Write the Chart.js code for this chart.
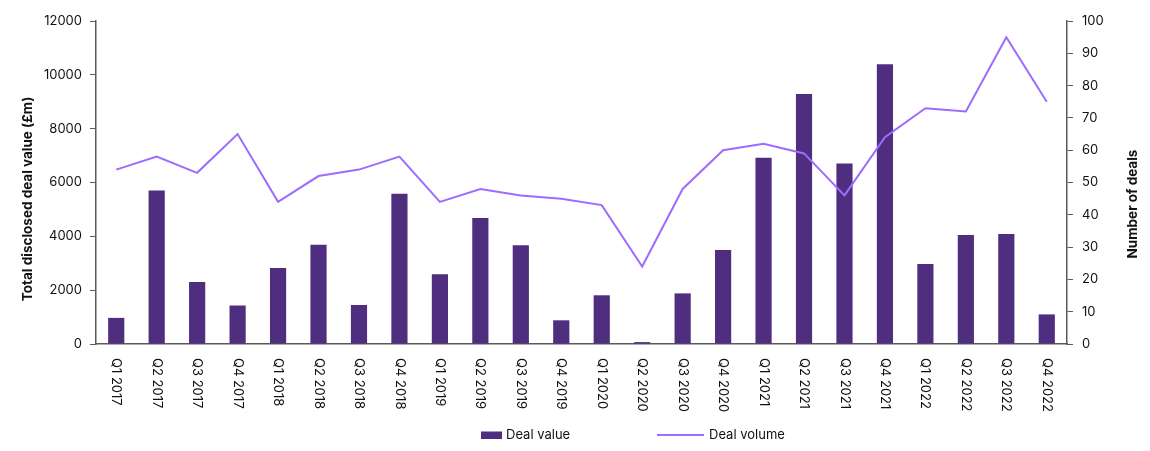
<!DOCTYPE html>
<html>
<head>
<meta charset="utf-8">
<script src="https://cdn.jsdelivr.net/npm/chart.js@4.4.0/dist/chart.umd.min.js"></script>
<style>
  html, body { margin: 0; padding: 0; background: #ffffff; }
  #wrap { width: 1150px; height: 451px; position: relative; }
</style>
</head>
<body>
<div id="wrap"><canvas id="c" width="1150" height="451"></canvas></div>
<script>
const categories = ["Q1 2017","Q2 2017","Q3 2017","Q4 2017","Q1 2018","Q2 2018","Q3 2018","Q4 2018",
  "Q1 2019","Q2 2019","Q3 2019","Q4 2019","Q1 2020","Q2 2020","Q3 2020","Q4 2020",
  "Q1 2021","Q2 2021","Q3 2021","Q4 2021","Q1 2022","Q2 2022","Q3 2022","Q4 2022"];
const dealValue = [970, 5700, 2300, 1430, 2820, 3690, 1450, 5580,
  2590, 4680, 3670, 880, 1810, 70, 1880, 3490,
  6920, 9290, 6710, 10390, 2970, 4050, 4090, 1100];
const dealVolume = [54, 58, 53, 65, 44, 52, 54, 58,
  44, 48, 46, 45, 43, 24, 48, 60,
  62, 59, 46, 64, 73, 72, 95, 75];
const leftTitle = "Total disclosed deal value (£m)";
const rightTitle = "Number of deals";
const seriesNames = ["Deal value", "Deal volume"];

const BAR = "#4f2d7f";
const LINE = "#9d6cff";
const AXIS = "#5a5a5a";
const FONT = "Inter, 'Noto Sans', sans-serif";

const customDraw = {
  id: "customDraw",
  afterDraw(chart) {
    const ctx = chart.ctx;
    const xs = chart.scales.x;
    ctx.save();
    ctx.fillStyle = "#111111";
    ctx.font = "13px " + FONT;
    ctx.textAlign = "left";
    ctx.textBaseline = "middle";
    categories.forEach((lab, i) => {
      const x = xs.getPixelForValue(i);
      ctx.save();
      ctx.translate(x, xs.top + 14);
      ctx.rotate(Math.PI / 2);
      ctx.fillText(lab, 0, 0);
      ctx.restore();
    });
    // axis titles
    ctx.font = "bold 13.5px " + FONT;
    ctx.textAlign = "center";
    ctx.save();
    ctx.translate(28, 199);
    ctx.rotate(-Math.PI / 2);
    ctx.fillText(leftTitle, 0, 0);
    ctx.restore();
    ctx.save();
    ctx.translate(1133, 204);
    ctx.rotate(-Math.PI / 2);
    ctx.fillText(rightTitle, 0, 0);
    ctx.restore();
    // legend
    ctx.font = "13px " + FONT;
    ctx.textAlign = "left";
    ctx.fillStyle = BAR;
    ctx.fillRect(481, 431.5, 21, 7.5);
    ctx.fillStyle = "#111111";
    ctx.fillText(seriesNames[0], 506, 435);
    ctx.strokeStyle = LINE;
    ctx.lineWidth = 2;
    ctx.beginPath();
    ctx.moveTo(657, 435);
    ctx.lineTo(704, 435);
    ctx.stroke();
    ctx.fillText(seriesNames[1], 709, 435);
    ctx.restore();
  }
};

new Chart(document.getElementById("c"), {
  data: {
    labels: categories,
    datasets: [
      {
        type: "line",
        label: seriesNames[1],
        data: dealVolume,
        yAxisID: "y1",
        borderColor: LINE,
        backgroundColor: LINE,
        borderWidth: 2,
        pointRadius: 0,
        tension: 0,
        order: 0
      },
      {
        type: "bar",
        label: seriesNames[0],
        data: dealValue,
        yAxisID: "y",
        backgroundColor: BAR,
        borderWidth: 0,
        barPercentage: 0.8,
        categoryPercentage: 0.5,
        order: 1
      }
    ]
  },
  options: {
    responsive: false,
    animation: false,
    devicePixelRatio: 1,
    layout: { padding: { top: 21, left: 0, right: 0, bottom: 0 } },
    plugins: { legend: { display: false }, tooltip: { enabled: false } },
    scales: {
      x: {
        type: "category",
        offset: true,
        grid: { display: false },
        border: { display: true, color: AXIS, width: 1.5 },
        ticks: { display: false },
        afterFit: (s) => { s.height = 107; }
      },
      y: {
        position: "left",
        min: 0, max: 12000,
        ticks: { stepSize: 2000, color: "#111111", font: { family: FONT, size: 13 }, padding: 8,
                 callback: (v) => String(v) },
        grid: { drawOnChartArea: false, drawTicks: true, tickLength: 6, color: AXIS },
        border: { display: true, color: AXIS, width: 1.5 },
        afterFit: (s) => { s.width = 96; }
      },
      y1: {
        position: "right",
        min: 0, max: 100,
        ticks: { stepSize: 10, color: "#111111", font: { family: FONT, size: 13 }, padding: 9,
                 callback: (v) => String(v) },
        grid: { drawOnChartArea: false, drawTicks: true, tickLength: 6, color: AXIS },
        border: { display: true, color: AXIS, width: 1.5 },
        afterFit: (s) => { s.width = 83; }
      }
    }
  },
  plugins: [customDraw]
});
</script>
</body>
</html>
